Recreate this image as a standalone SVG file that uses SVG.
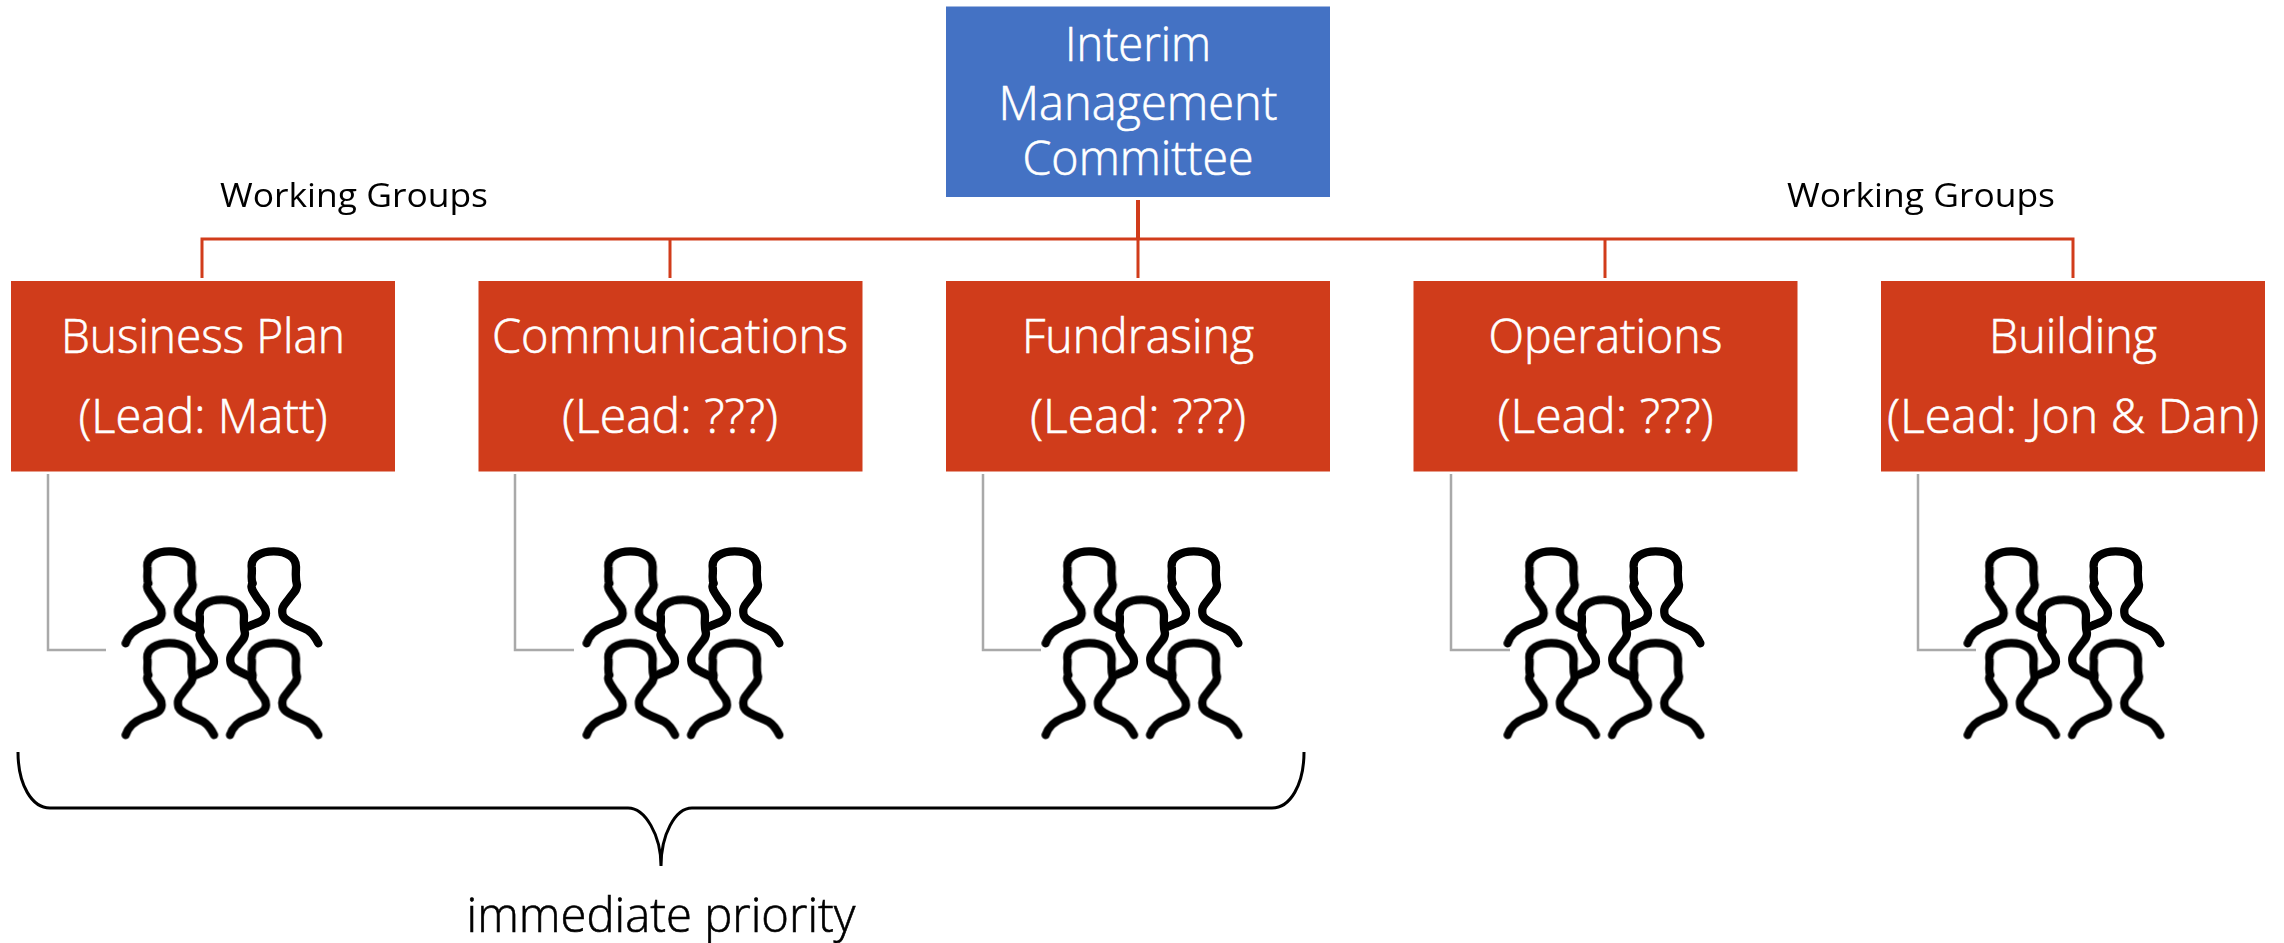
<svg xmlns="http://www.w3.org/2000/svg" width="2284" height="943" viewBox="0 0 2284 943">
<style>
text{font-family:"Open Sans","Noto Sans","Liberation Sans",sans-serif;text-anchor:middle}
.box{fill:#D03C1B}
.top{fill:#4472C4}
.w{fill:#fff;stroke:#fff;stroke-width:.6;font-size:47px;font-weight:300}
.k{fill:#000;font-weight:400}
.l{fill:#000;stroke:#000;stroke-width:.6;font-size:47px;font-weight:300}
.red{fill:none;stroke:#D13C1B;stroke-width:3}
.gray{fill:none;stroke:#A9A9A9;stroke-width:2.5}
.brace{fill:none;stroke:#000;stroke-width:3}
.p{fill:none;stroke:#000;stroke-width:25;stroke-linecap:round;stroke-linejoin:round}
</style>
<defs>
<filter id="soft" x="-5%" y="-5%" width="110%" height="110%"><feGaussianBlur stdDeviation="0.6"/></filter>
<g id="people" transform="scale(.33333)" filter="url(#soft)">
<path class="p" d="M377 580C385 555 400 540 430 528C455 518 485 515 485 490C485 465 470 465 450 430C440 415 440 405 445 400C438 385 445 370 442 350C440 322 468 304 508 304C548 304 575 322 575 350C575 370 572 385 578 405C578 420 570 425 555 445C540 465 530 470 535 495C540 515 565 520 600 538"/>
<path class="p" transform="translate(313 0)" d="M432 530C455 518 485 515 485 490C485 465 470 465 450 430C440 415 440 405 445 400C438 385 445 370 442 350C440 322 468 304 508 304C548 304 575 322 575 350C575 370 572 385 578 405C578 420 570 425 555 445C540 465 530 470 535 495C540 515 580 525 610 540C625 550 635 565 642 580"/>
<path class="p" transform="translate(157 145)" d="M432 530C455 518 485 515 485 490C485 465 470 465 450 430C440 415 440 405 445 400C438 385 445 370 442 350C440 322 468 304 508 304C548 304 575 322 575 350C575 370 572 385 578 405C578 420 570 425 555 445C540 465 530 470 535 495C540 515 565 520 600 538"/>
<path class="p" transform="translate(0 275)" d="M377 580C385 555 400 540 430 528C455 518 485 515 485 490C485 465 470 465 450 430C440 415 440 405 445 400C438 385 445 370 442 350C440 322 468 304 508 304C548 304 575 322 575 350C575 370 572 385 578 405C578 420 570 425 555 445C540 465 530 470 535 495C540 515 580 525 610 540C625 550 635 565 642 580"/>
<path class="p" transform="translate(313 275)" d="M377 580C385 555 400 540 430 528C455 518 485 515 485 490C485 465 470 465 450 430C440 415 440 405 445 400C438 385 445 370 442 350C440 322 468 304 508 304C548 304 575 322 575 350C575 370 572 385 578 405C578 420 570 425 555 445C540 465 530 470 535 495C540 515 580 525 610 540C625 550 635 565 642 580"/>
</g>
</defs>
<rect width="2284" height="943" fill="#fff"/>
<g id="connectors">
<path class="red" d="M202 278V239H2073V278M670 239V278M1605 239V278M1138 239V278"/>
<path class="red" style="stroke-width:4" d="M1138 200V239"/>
<path class="gray" d="M48 474V650H106M515 474V650H574M983 474V650H1041M1451 474V650H1510M1918 474V650H1976"/>
<path class="brace" d="M18 752C18 785 32 808 50 808H628C645 808 661 835 661 866C661 835 675 808 692 808H1272C1290 808 1304 785 1304 752"/>
</g>
<g id="n-imc"><rect class="top" x="946" y="6.500" width="384" height="190.500"/>
<text class="w" x="1138" y="61" textLength="146" lengthAdjust="spacingAndGlyphs">Interim</text>
<text class="w" x="1138" y="120" textLength="279" lengthAdjust="spacingAndGlyphs">Management</text>
<text class="w" x="1138" y="175" textLength="231" lengthAdjust="spacingAndGlyphs">Committee</text></g>
<g id="n-business"><rect class="box" x="11" y="281" width="384" height="190.500"/>
<text class="w" x="203" y="353" textLength="284" lengthAdjust="spacingAndGlyphs">Business Plan</text>
<text class="w" x="203" y="433" textLength="249" lengthAdjust="spacingAndGlyphs">(Lead: Matt)</text></g>
<g id="n-comms"><rect class="box" x="478.500" y="281" width="384" height="190.500"/>
<text class="w" x="670" y="353" textLength="356" lengthAdjust="spacingAndGlyphs">Communications</text>
<text class="w" x="670" y="433" textLength="216" lengthAdjust="spacingAndGlyphs">(Lead: ???)</text></g>
<g id="n-fund"><rect class="box" x="946" y="281" width="384" height="190.500"/>
<text class="w" x="1138" y="353" textLength="232" lengthAdjust="spacingAndGlyphs">Fundrasing</text>
<text class="w" x="1138" y="433" textLength="216" lengthAdjust="spacingAndGlyphs">(Lead: ???)</text></g>
<g id="n-ops"><rect class="box" x="1413.500" y="281" width="384" height="190.500"/>
<text class="w" x="1605.500" y="353" textLength="234" lengthAdjust="spacingAndGlyphs">Operations</text>
<text class="w" x="1605.500" y="433" textLength="216" lengthAdjust="spacingAndGlyphs">(Lead: ???)</text></g>
<g id="n-build"><rect class="box" x="1881" y="281" width="384" height="190.500"/>
<text class="w" x="2073" y="353" textLength="168" lengthAdjust="spacingAndGlyphs">Building</text>
<text class="w" x="2073" y="433" textLength="372" lengthAdjust="spacingAndGlyphs">(Lead: Jon &amp; Dan)</text></g>
<g id="icon1" transform="translate(0 450)"><use href="#people"/></g>
<g id="icon2" transform="translate(461 450)"><use href="#people"/></g>
<g id="icon3" transform="translate(920 450)"><use href="#people"/></g>
<g id="icon4" transform="translate(1382 450)"><use href="#people"/></g>
<g id="icon5" transform="translate(1842 450)"><use href="#people"/></g>
<g id="labels">
<text class="k" x="354" y="207" font-size="33" textLength="268" lengthAdjust="spacingAndGlyphs">Working Groups</text>
<text class="k" x="1921" y="207" font-size="33" textLength="268" lengthAdjust="spacingAndGlyphs">Working Groups</text>
<text class="l" x="661" y="932" textLength="389" lengthAdjust="spacingAndGlyphs">immediate priority</text>
</g>
</svg>
